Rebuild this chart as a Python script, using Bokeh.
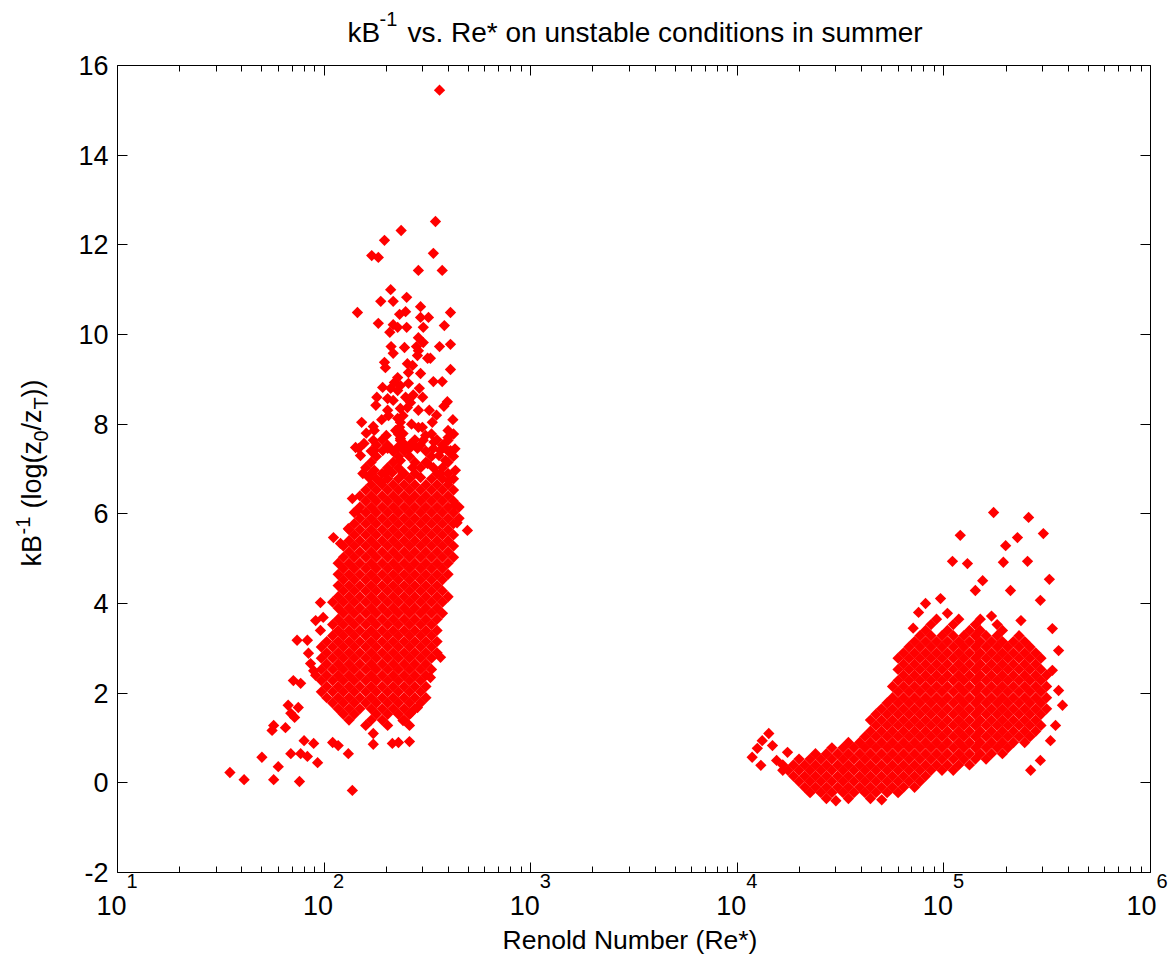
import math
from bokeh.plotting import figure
from bokeh.models import (FixedTicker, CustomJSTickFormatter, LogAxis, LinearAxis,
                          Label, Range1d)
from bokeh.embed import file_html
from bokeh.resources import INLINE

FONT = "Liberation Sans"

# ---------------- data ----------------
x_major = [10, 100, 1000, 10000, 100000, 1000000]
x_exponent = ["1", "2", "3", "4", "5", "6"]
y_ticks = [-2, 0, 2, 4, 6, 8, 10, 12, 14, 16]

# low Re* cluster : scattered points
low_re = [362, 346, 236, 196, 170, 183, 338, 286, 373, 210, 251, 188, 216, 145, 293, 248, 232, 409,
          183, 216, 227, 251, 293, 302, 320, 382, 208, 286, 302, 211, 245, 280, 362, 409, 216, 286,
          283, 327, 317, 196, 198, 253, 268, 256, 293, 409, 338, 373, 227, 219, 234, 192, 210, 227,
          256, 289, 180, 203, 216, 248, 262, 178, 203, 234, 253, 286, 323, 205, 227, 241, 152, 173,
          175, 234, 232, 222, 241, 234, 286, 299, 334, 398, 398, 142, 147, 173, 175, 203, 214, 227,
          253, 268, 283, 338, 366, 378,
          156, 192, 234, 262, 302, 398, 409, 154, 165, 175, 188, 198, 214, 234, 241, 268, 293, 317,
          338, 366, 387, 402, 432,
          190, 265, 310, 350, 380, 160, 420, 300, 270, 395, 340, 200, 245, 150, 360, 430,
          35, 41, 57, 76, 137, 50, 60, 69, 77, 83, 93, 131, 57, 65, 56, 80, 89, 110, 117, 173, 173,
          214, 229, 259, 67, 75, 69, 72, 71, 77, 74, 83, 84, 86, 89, 91, 99, 96, 96, 111, 120, 131,
          137, 145,
          494, 440, 432, 283, 262, 241, 327, 366]
low_kb = [15.45, 12.52, 12.32, 12.10, 11.76, 11.72, 11.81, 11.43, 11.43, 11.0, 10.83, 10.74, 10.74,
          10.49, 10.62, 10.51, 10.45, 10.49, 10.25, 10.22, 10.16, 10.16, 10.38, 10.16, 10.38, 10.2,
          10.05, 9.93, 9.82, 9.73, 9.71, 9.73, 9.73, 9.78, 9.58, 9.64, 9.53, 9.47, 9.47, 9.38, 9.26,
          9.35, 9.31, 9.15, 9.13, 9.22, 8.95, 8.95, 9.04, 8.93, 8.86, 8.82, 8.8, 8.75, 8.91, 8.8,
          8.6, 8.57, 8.53, 8.6, 8.48, 8.42, 8.31, 8.35, 8.37, 8.31, 8.31, 8.19, 8.13, 8.19, 8.04,
          7.95, 7.86, 8.04, 7.93, 7.86, 7.79, 7.68, 7.93, 7.93, 8.04, 7.86, 7.7, 7.48, 7.46, 7.64,
          7.41, 7.46, 7.41, 7.48, 7.46, 7.57, 7.46, 7.46, 7.41, 7.48,
          7.57, 7.41, 7.64, 7.48, 7.64, 7.64, 7.41, 6.90, 6.81, 6.97, 6.70, 6.90, 6.92, 7.19, 6.90,
          7.03, 6.81, 7.12, 7.03, 6.90, 7.19, 6.74, 6.97,
          8.1, 8.0, 7.75, 8.2, 8.4, 7.8, 8.1, 8.6, 8.65, 8.5, 7.6, 7.75, 7.55, 7.3, 7.3, 7.45,
          0.23, 0.07, 0.07, 0.03, -0.17, 0.57, 0.36, 0.65, 0.65, 0.59, 0.45, 0.65, 1.28, 1.23, 1.17,
          0.94, 0.88, 0.9, 0.83, 1.1, 0.86, 0.88, 0.9, 0.92, 1.73, 1.68, 1.55, 1.46, 2.28, 2.22,
          3.18, 3.18, 2.89, 2.66, 2.5, 3.62, 3.69, 3.4, 4.02, 5.47, 5.34, 5.67, 6.34, 6.07,
          5.63, 5.80, 6.2, 1.68, 1.55, 1.39, 2.35, 2.8]

# low Re* cluster : solid core, read row by row (kB^-1 level, Re* values in that row)
low_core_kb = [7.78, 7.65, 7.53, 7.40,
               7.28, 7.15, 7.03, 6.90, 6.78, 6.65, 6.53, 6.40, 6.28, 6.15, 6.03, 5.90, 5.78, 5.65,
               5.53, 5.40, 5.28, 5.15, 5.03, 4.90, 4.78, 4.65, 4.53, 4.40, 4.28, 4.15, 4.03, 3.90,
               3.78, 3.65, 3.53, 3.40, 3.28, 3.15, 3.03, 2.90, 2.78, 2.65, 2.53, 2.40, 2.28, 2.15,
               2.03, 1.90, 1.78, 1.65, 1.53, 1.40, 1.28]
low_core_re = [
    [229, 331, 423],
    [191, 275, 352],
    [179, 203, 259, 293, 374],
    [169, 216, 244, 311, 398],
    [179, 229, 259, 331, 423],
    [169, 216, 275, 311, 398],
    [159, 203, 229, 293, 374],
    [169, 191, 244, 275, 352, 398],
    [179, 203, 229, 259, 331, 374, 423],
    [169, 191, 216, 244, 275, 311, 352, 398],
    [159, 179, 203, 229, 259, 293, 331, 374, 423],
    [149, 169, 191, 216, 244, 275, 311, 352, 398],
    [159, 179, 203, 229, 259, 293, 331, 374, 423],
    [149, 169, 191, 216, 244, 275, 311, 352, 398, 450],
    [140, 159, 179, 203, 229, 259, 293, 331, 374, 423],
    [149, 169, 191, 216, 244, 275, 311, 352, 398, 450],
    [140, 159, 179, 203, 229, 259, 293, 331, 374, 423],
    [132, 149, 169, 191, 216, 244, 275, 311, 352, 398],
    [140, 159, 179, 203, 229, 259, 293, 331, 374, 423],
    [132, 149, 169, 191, 216, 244, 275, 311, 352, 398],
    [124, 140, 159, 179, 203, 229, 259, 293, 331, 374, 423],
    [132, 149, 169, 191, 216, 244, 275, 311, 352, 398],
    [124, 140, 159, 179, 203, 229, 259, 293, 331, 374, 423],
    [117, 132, 149, 169, 191, 216, 244, 275, 311, 352, 398],
    [124, 140, 159, 179, 203, 229, 259, 293, 331, 374],
    [117, 132, 149, 169, 191, 216, 244, 275, 311, 352, 398],
    [124, 140, 159, 179, 203, 229, 259, 293, 331, 374],
    [117, 132, 149, 169, 191, 216, 244, 275, 311, 352],
    [124, 140, 159, 179, 203, 229, 259, 293, 331, 374],
    [117, 132, 149, 169, 191, 216, 244, 275, 311, 352, 398],
    [110, 124, 140, 159, 179, 203, 229, 259, 293, 331, 374],
    [117, 132, 149, 169, 191, 216, 244, 275, 311, 352],
    [124, 140, 159, 179, 203, 229, 259, 293, 331, 374],
    [117, 132, 149, 169, 191, 216, 244, 275, 311, 352],
    [110, 124, 140, 159, 179, 203, 229, 259, 293, 331],
    [117, 132, 149, 169, 191, 216, 244, 275, 311, 352],
    [110, 124, 140, 159, 179, 203, 229, 259, 293, 331],
    [103, 117, 132, 149, 169, 191, 216, 244, 275, 311, 352],
    [97, 110, 124, 140, 159, 179, 203, 229, 259, 293, 331],
    [103, 117, 132, 149, 169, 191, 216, 244, 275, 311, 352],
    [97, 110, 124, 140, 159, 179, 203, 229, 259, 293, 331],
    [103, 117, 132, 149, 169, 191, 216, 244, 275, 311],
    [97, 110, 124, 140, 159, 179, 203, 229, 259, 293, 331],
    [91, 103, 117, 132, 149, 169, 191, 216, 244, 275, 311],
    [97, 110, 124, 140, 159, 179, 203, 229, 259, 293],
    [103, 117, 132, 149, 169, 191, 216, 244, 275, 311],
    [97, 110, 124, 140, 159, 179, 203, 229, 259, 293],
    [103, 117, 132, 149, 169, 191, 216, 244, 275, 311],
    [110, 124, 140, 159, 179, 203, 229, 259, 293],
    [117, 132, 149, 169, 191, 216, 244, 275],
    [124, 140, 179, 203, 229, 259],
    [132, 169, 191, 244],
    [159, 203, 259],
]

# high Re* cluster : scattered points
high_re = [257000, 303000, 227000, 174000, 324000, 254000, 199000, 194000, 120000, 110000, 130000,
           142000, 154000, 81500, 75400, 96300, 210000, 293000, 335000, 359000, 375000, 347000,
           328000, 359000, 335000, 293000, 263000,
           11800, 12500, 13200, 14200, 14800, 15500, 16600, 17500, 13000,
           104000, 170000, 71000, 236000, 30000, 50000]
high_kb = [5.92, 5.56, 5.47, 6.03, 4.54, 4.94, 5.29, 4.92, 5.52, 4.94, 4.89, 4.29, 4.51, 4.0, 3.8,
           4.11, 4.29, 4.07, 3.44, 2.95, 1.73, 1.28, 0.94, 2.06, 2.51, 0.5, 0.28,
           0.57, 0.77, 0.94, 1.1, 0.83, 0.5, 0.28, 0.68, 0.39,
           3.78, 3.72, 3.45, 3.62, -0.4, -0.38]

# high Re* cluster : solid core, row by row
high_core_kb = [3.65, 3.53, 3.40, 3.28, 3.15, 3.03, 2.90, 2.78, 2.65, 2.53, 2.40, 2.28, 2.15, 2.03,
                1.90, 1.78, 1.65, 1.53, 1.40, 1.28, 1.15, 1.03, 0.90, 0.78, 0.65, 0.53, 0.40, 0.28,
                0.15, 0.03, -0.10, -0.22, -0.35]
high_core_re = [
    [92100, 118000, 150000],
    [86600, 111000, 142000, 181000],
    [81500, 104000, 133000, 150000, 192000],
    [76600, 86600, 97900, 111000, 125000, 142000, 160000, 181000, 231000],
    [72100, 81500, 92100, 104000, 118000, 133000, 150000, 170000, 192000, 217000, 246000],
    [67800, 76600, 86600, 97900, 111000, 125000, 142000, 160000, 181000, 204000, 231000, 261000],
    [63800, 72100, 81500, 92100, 104000, 118000, 133000, 150000, 170000, 192000, 217000, 246000, 278000],
    [60000, 67800, 76600, 86600, 97900, 111000, 125000, 142000, 160000, 181000, 204000, 231000, 261000, 295000],
    [63800, 72100, 81500, 92100, 104000, 118000, 133000, 150000, 170000, 192000, 217000, 246000, 278000],
    [60000, 67800, 76600, 86600, 97900, 111000, 125000, 142000, 160000, 181000, 204000, 231000, 261000, 295000],
    [63800, 72100, 81500, 92100, 104000, 118000, 133000, 150000, 170000, 192000, 217000, 246000, 278000, 314000],
    [60000, 67800, 76600, 86600, 97900, 111000, 125000, 142000, 160000, 181000, 204000, 231000, 261000, 295000],
    [56400, 63800, 72100, 81500, 92100, 104000, 118000, 133000, 150000, 170000, 192000, 217000, 246000, 278000, 314000],
    [60000, 67800, 76600, 86600, 97900, 111000, 125000, 142000, 160000, 181000, 204000, 231000, 261000, 295000],
    [56400, 63800, 72100, 81500, 92100, 104000, 118000, 133000, 150000, 170000, 192000, 217000, 246000, 278000, 314000],
    [53100, 60000, 67800, 76600, 86600, 97900, 111000, 125000, 142000, 160000, 181000, 204000, 231000, 261000, 295000],
    [49900, 56400, 63800, 72100, 81500, 92100, 104000, 118000, 133000, 150000, 170000, 192000, 217000, 246000, 278000, 314000],
    [46900, 53100, 60000, 67800, 76600, 86600, 97900, 111000, 125000, 142000, 160000, 181000, 204000, 231000, 261000, 295000],
    [44100, 49900, 56400, 63800, 72100, 81500, 92100, 104000, 118000, 133000, 150000, 170000, 192000, 217000, 246000, 278000],
    [46900, 53100, 60000, 67800, 76600, 86600, 97900, 111000, 125000, 142000, 160000, 181000, 204000, 231000, 261000, 295000],
    [44100, 49900, 56400, 63800, 72100, 81500, 92100, 104000, 118000, 133000, 150000, 170000, 192000, 217000, 246000, 278000],
    [41500, 46900, 53100, 60000, 67800, 76600, 86600, 97900, 111000, 125000, 142000, 160000, 181000, 204000, 231000, 261000],
    [34500, 39100, 44100, 49900, 56400, 63800, 72100, 81500, 92100, 104000, 118000, 133000, 150000, 170000, 192000, 217000, 246000],
    [28700, 32500, 36700, 41500, 46900, 53100, 60000, 67800, 76600, 86600, 97900, 111000, 125000, 142000, 160000, 181000, 204000],
    [23900, 27000, 30600, 34500, 39100, 44100, 49900, 56400, 63800, 72100, 81500, 92100, 104000, 118000, 133000, 150000, 170000, 192000],
    [19900, 22500, 25400, 28700, 32500, 36700, 41500, 46900, 53100, 60000, 67800, 76600, 86600, 97900, 111000, 125000, 142000, 160000],
    [16600, 18700, 21200, 23900, 27000, 30600, 34500, 39100, 44100, 49900, 56400, 63800, 72100, 81500, 92100, 104000, 118000, 133000],
    [17600, 19900, 22500, 25400, 28700, 32500, 36700, 41500, 46900, 53100, 60000, 67800, 76600, 86600, 97900, 111000],
    [18700, 21200, 23900, 27000, 30600, 34500, 39100, 44100, 49900, 56400, 63800, 72100, 81500],
    [19900, 22500, 25400, 28700, 32500, 36700, 41500, 46900, 53100, 60000, 67800, 76600],
    [21200, 23900, 27000, 30600, 34500, 39100, 44100, 49900, 56400, 63800, 72100],
    [22500, 25400, 28700, 32500, 36700, 41500, 46900, 53100, 60000],
    [27000, 34500, 44100],
]

# ---------------- build point table ----------------
xs = list(low_re) + list(high_re)
ys = list(low_kb) + list(high_kb)
for kb, row in zip(low_core_kb, low_core_re):
    xs += row
    ys += [kb] * len(row)
for kb, row in zip(high_core_kb, high_core_re):
    xs += row
    ys += [kb] * len(row)

# ---------------- layout: plot box at px (117,65)-(1150,872) of a 1169x960 canvas ----------
W, H = 1169, 960
L, T, R, B = 117, 65, 1150, 872
px_dec = (R - L) / 5.0
px_unit = (B - T) / 18.0
x_rng = Range1d(10 ** (1 - L / px_dec), 10 ** (6 + (W - R) / px_dec))
y_rng = Range1d(-2 - (H - B) / px_unit, 16 + T / px_unit)

p = figure(width=W, height=H, x_axis_type="log", x_range=x_rng, y_range=y_rng,
           output_backend="svg", toolbar_location=None, title_location=None,
           min_border=0, min_border_left=0, min_border_right=0, min_border_top=0,
           min_border_bottom=0, background_fill_color="white", border_fill_color="white")
p.outline_line_color = None
p.grid.visible = False

blank = CustomJSTickFormatter(code="return ''")
plain = CustomJSTickFormatter(code="return tick.toString()")
xt = FixedTicker(ticks=x_major,
                 minor_ticks=[m * 10 ** k for k in range(1, 6) for m in range(2, 10)])
yt = FixedTicker(ticks=y_ticks, minor_ticks=[])


def style_axis(ax, major_in, minor_in):
    ax.axis_line_color = "black"
    ax.axis_line_width = 1
    ax.major_tick_line_color = "black"
    ax.minor_tick_line_color = "black"
    ax.major_tick_in = major_in
    ax.major_tick_out = 0
    ax.minor_tick_in = minor_in
    ax.minor_tick_out = 0


xa = p.xaxis[0]
xa.ticker = xt
xa.formatter = blank
xa.fixed_location = -2
xa.bounds = (10, 1e6)
style_axis(xa, 10, 6)

top = LogAxis(ticker=xt, formatter=blank, fixed_location=16, bounds=(10, 1e6))
style_axis(top, 10, 6)
p.add_layout(top, "above")

ya = p.yaxis[0]
ya.ticker = yt
ya.formatter = plain
ya.fixed_location = 10
ya.bounds = (-2, 16)
style_axis(ya, 10, 0)
ya.major_label_text_font = FONT
ya.major_label_text_font_size = "27px"
ya.major_label_text_color = "black"
ya.major_label_standoff = 9

right = LinearAxis(ticker=yt, formatter=blank, fixed_location=1e6, bounds=(-2, 16))
style_axis(right, 10, 0)
p.add_layout(right, "right")

p.scatter(xs, ys, marker="square", angle=math.pi / 4, size=8,
          fill_color="#ff0000", line_color=None)

# ---------------- x tick labels: 10 with exponent ----------------
for i, (v, e) in enumerate(zip(x_major, x_exponent)):
    shift = -3 if i == len(x_major) - 1 else 0
    p.add_layout(Label(x=v, y=-2, text="10", text_align="right", text_baseline="alphabetic",
                       x_offset=9 + shift, y_offset=-33, text_font=FONT,
                       text_font_size="27px", text_color="black"))
    p.add_layout(Label(x=v, y=-2, text=e, text_align="left", text_baseline="alphabetic",
                       x_offset=9 + shift, y_offset=-8, text_font=FONT,
                       text_font_size="20px", text_color="black"))


def lab(text, xo, yo, size, x=10, y=16, angle=0.0):
    p.add_layout(Label(x=x, y=y, text=text, text_align="left", text_baseline="alphabetic",
                       x_offset=xo, y_offset=yo, text_font=FONT, text_font_size=size,
                       text_color="black", angle=angle))


# ---------------- title ----------------
lab("kB", 230, 33, "28px")
lab("-1", 262, 47, "20px")
lab("vs. Re* on unstable conditions in summer", 290, 33, "28px")

# ---------------- x label ----------------
p.add_layout(Label(x=10 ** 3.5, y=-2, text="Renold Number (Re*)", text_align="center",
                   text_baseline="alphabetic", x_offset=-4, y_offset=-67, text_font=FONT,
                   text_font_size="26.5px", text_color="black"))

# ---------------- y label (rotated, pieces) ----------------
A = math.pi / 2
lab("kB", -86, 306, "27px", y=-2, angle=A)
lab("-1", -95, 338, "20px", y=-2, angle=A)
lab("(log(z", -86, 364, "27px", y=-2, angle=A)
lab("0", -77, 431, "20px", y=-2, angle=A)
lab("/z", -86, 442, "27px", y=-2, angle=A)
lab("T", -77, 463, "20px", y=-2, angle=A)
lab("))", -86, 475, "27px", y=-2, angle=A)

open("out.html", "w").write(file_html(p, INLINE))
